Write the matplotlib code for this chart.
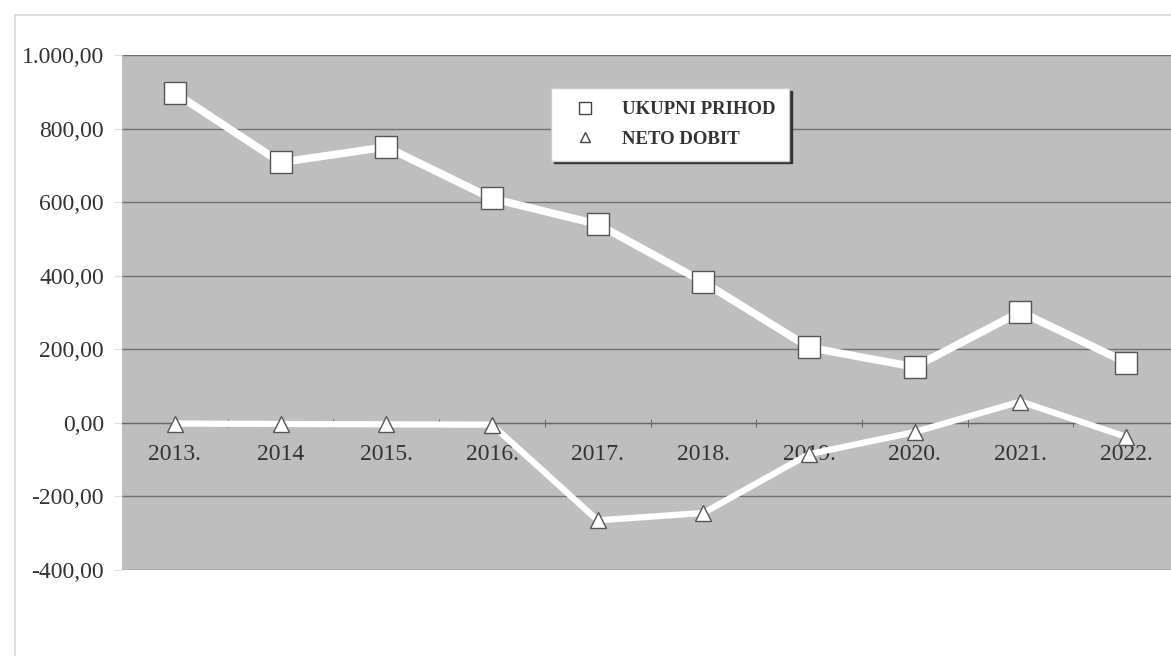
import matplotlib.pyplot as plt
from matplotlib.lines import Line2D
from matplotlib.patches import Rectangle

years = ["2013.", "2014", "2015.", "2016.", "2017.", "2018.", "2019.", "2020.", "2021.", "2022."]
ukupni_prihod = [897, 708, 750, 610, 540, 383, 205, 152, 302, 164]
neto_dobit = [-2, -3, -4, -5, -265, -245, -85, -25, 58, -38]

y_ticks = [-400, -200, 0, 200, 400, 600, 800, 1000]
y_labels = ["-400,00", "-200,00", "0,00", "200,00", "400,00", "600,00", "800,00", "1.000,00"]

plt.rcParams['font.family'] = ['Liberation Serif', 'DejaVu Serif']

fig = plt.figure(figsize=(11.71, 6.56), dpi=100)
fig.patch.set_facecolor('white')

# outer chart frame
fig.add_artist(Rectangle((15 / 1171, -0.05), 1.2, 1 - 15 / 656 + 0.05,
                         transform=fig.transFigure, fill=False,
                         edgecolor='#d8d8d8', linewidth=1.2))

ax = fig.add_axes([122 / 1171, 1 - 570 / 656, (1179 - 122) / 1171, (570 - 55) / 656])
ax.set_facecolor('#bebebe')

x = list(range(len(years)))
ax.plot(x, ukupni_prihod, color='white', linewidth=5.5, marker='s', markersize=16,
        markerfacecolor='white', markeredgecolor='#555555', markeredgewidth=1.0,
        solid_joinstyle='round', zorder=3)
ax.plot(x, neto_dobit, color='white', linewidth=4.5, marker='^', markersize=12,
        markerfacecolor='white', markeredgecolor='#555555', markeredgewidth=1.0,
        solid_joinstyle='round', zorder=3)

ax.set_xlim(-0.5, len(years) - 0.5)
ax.set_ylim(-400, 1000)
ax.set_yticks(y_ticks)
ax.set_yticklabels(y_labels, fontsize=17, color='#333333')
ax.yaxis.grid(True, color='#707070', linewidth=1.0)
ax.set_axisbelow(True)
ax.tick_params(axis='y', length=6, color='#dddddd', pad=7)

# category axis crosses at zero
for s in ['top', 'right', 'left']:
    ax.spines[s].set_visible(False)
ax.spines['bottom'].set_position(('data', 0))
ax.spines['bottom'].set_color('#666666')
ax.set_xticks(x)
ax.set_xticklabels(years, fontsize=17, color='#333333')
ax.tick_params(axis='x', which='major', length=0, pad=15)
ax.set_xticks([i + 0.5 for i in x[:-1]], minor=True)
ax.tick_params(axis='x', which='minor', length=6, direction='inout', color='#555555')

handles = [
    Line2D([], [], linestyle='none', marker='s', markersize=8, markerfacecolor='white',
           markeredgecolor='#444444', markeredgewidth=1.0),
    Line2D([], [], linestyle='none', marker='^', markersize=7, markerfacecolor='white',
           markeredgecolor='#444444', markeredgewidth=1.0),
]
leg = fig.legend(handles, ["UKUPNI PRIHOD", "NETO DOBIT"], loc='upper left',
                 bbox_to_anchor=(551 / 1171, 1 - 88 / 656), frameon=True, fancybox=False,
                 shadow={'color': '#333333', 'alpha': 1.0}, edgecolor='#cccccc',
                 framealpha=1.0, prop={'weight': 'bold', 'size': 13.5},
                 handletextpad=0.9, borderpad=0.7, labelspacing=0.65, borderaxespad=0,
                 handlelength=2.2)
for t in leg.get_texts():
    t.set_color('#333333')

fig.savefig("out.png", dpi=100)
